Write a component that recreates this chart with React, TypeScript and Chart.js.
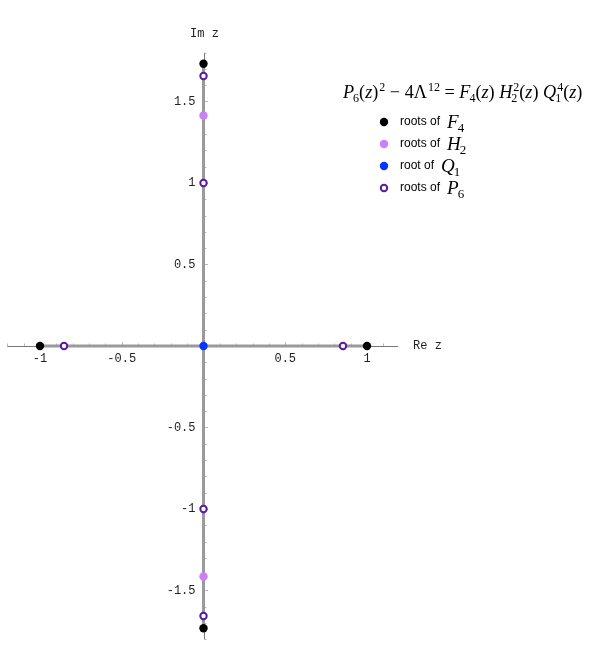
import React, { useEffect, useRef } from "react";
import { Chart, registerables } from "chart.js";
Chart.register(...registerables);

// ---- data ----
const f4Re = [-1, 1, 0, 0];
const f4Im = [0, 0, 1.732, -1.732];
const h2Re = [0, 0];
const h2Im = [1.414, -1.414];
const q1Re = [0];
const q1Im = [0];
const p6Re = [-0.853, 0.853, 0, 0, 0, 0];
const p6Im = [0, 0, 1, -1, 1.656, -1.656];
const realSegment = [-1, 1];
const imagSegment = [-1.732, 1.732];
const xTicks = [-1, -0.5, 0.5, 1];
const xTickLabels = ["-1", "-0.5", "0.5", "1"];
const yTicks = [-1.5, -1, -0.5, 0.5, 1, 1.5];
const yTickLabels = ["-1.5", "-1", "-0.5", "0.5", "1", "1.5"];
const xAxisExtent = [-1.2, 1.19];
const yAxisExtent = [-1.8, 1.8];
const legendLabels = ["roots of", "roots of", "root of", "roots of"];
const legendSymbols = [["F", "4"], ["H", "2"], ["Q", "1"], ["P", "6"]];
const axisTitles = ["Re z", "Im z"];

const COL_F4 = "#000000";
const COL_H2 = "#cc80f5";
const COL_Q1 = "#0336ff";
const COL_P6 = "#561aa0";
const COL_SEG = "#9a9a9a";

type Part = { t: string; it?: boolean; sub?: string; sup?: string };

const formula: Part[] = [
  { t: "P", it: true, sub: "6" },
  { t: "(" },
  { t: "z", it: true },
  { t: ")", sup: "2" },
  { t: " − 4Λ", sup: "12" },
  { t: " = " },
  { t: "F", it: true, sub: "4" },
  { t: "(" },
  { t: "z", it: true },
  { t: ") " },
  { t: "H", it: true, sup: "2", sub: "2" },
  { t: "(" },
  { t: "z", it: true },
  { t: ") " },
  { t: "Q", it: true, sup: "4", sub: "1" },
  { t: "(" },
  { t: "z", it: true },
  { t: ")" },
];

const SERIF = '"Liberation Serif", "DejaVu Serif", serif';

function drawMath(ctx: CanvasRenderingContext2D, x: number, y: number, parts: Part[], size: number) {
  let cx = x;
  for (const p of parts) {
    ctx.font = `${p.it ? "italic " : ""}${size}px ${SERIF}`;
    ctx.fillText(p.t, cx, y);
    cx += ctx.measureText(p.t).width;
    const s = Math.round(size * 0.68);
    ctx.font = `${s}px ${SERIF}`;
    let w = 0;
    if (p.sup) {
      ctx.fillText(p.sup, cx + 1, y - size * 0.4);
      w = Math.max(w, ctx.measureText(p.sup).width + 1);
    }
    if (p.sub) {
      const off = p.it ? -1 : 0;
      ctx.fillText(p.sub, cx + off, y + size * 0.22);
      w = Math.max(w, ctx.measureText(p.sub).width + off);
    }
    cx += w;
  }
  return cx;
}

function pts(xs: number[], ys: number[]) {
  return xs.map((x, i) => ({ x, y: ys[i] }));
}

const overlay = {
  id: "overlay",
  beforeDatasetsDraw(chart: any) {
    const ctx: CanvasRenderingContext2D = chart.ctx;
    const xs = chart.scales.x;
    const ys = chart.scales.y;
    const x0 = xs.getPixelForValue(0);
    const y0 = ys.getPixelForValue(0);
    ctx.save();
    ctx.strokeStyle = "#777";
    ctx.lineWidth = 1;
    // axis lines
    ctx.beginPath();
    ctx.moveTo(xs.getPixelForValue(xAxisExtent[0]), Math.round(y0) + 0.5);
    ctx.lineTo(xs.getPixelForValue(xAxisExtent[1]), Math.round(y0) + 0.5);
    ctx.moveTo(Math.round(x0) + 0.5, ys.getPixelForValue(yAxisExtent[0]));
    ctx.lineTo(Math.round(x0) + 0.5, ys.getPixelForValue(yAxisExtent[1]));
    ctx.stroke();
    // minor + major ticks
    ctx.strokeStyle = "#b8b8b8";
    ctx.beginPath();
    for (let k = -12; k <= 11; k++) {
      if (k === 0) continue;
      const major = k % 5 === 0;
      const px = Math.round(xs.getPixelForValue(k / 10)) + 0.5;
      ctx.moveTo(px, y0);
      ctx.lineTo(px, y0 - (major ? 4 : 2.5));
    }
    for (let k = -18; k <= 18; k++) {
      if (k === 0) continue;
      const major = k % 5 === 0;
      const py = Math.round(ys.getPixelForValue(k / 10)) + 0.5;
      ctx.moveTo(x0 + 1, py);
      ctx.lineTo(x0 + 1 + (major ? 3.5 : 2), py);
    }
    ctx.stroke();
    // tick labels
    ctx.fillStyle = "#222";
    ctx.font = '12px "Liberation Mono", "DejaVu Sans Mono", monospace';
    ctx.textAlign = "center";
    ctx.textBaseline = "middle";
    xTicks.forEach((v, i) => {
      ctx.fillText(xTickLabels[i], xs.getPixelForValue(v), y0 + 13);
    });
    ctx.textAlign = "right";
    yTicks.forEach((v, i) => {
      ctx.fillText(yTickLabels[i], x0 - 8, ys.getPixelForValue(v));
    });
    // axis titles
    ctx.textAlign = "left";
    ctx.fillText(axisTitles[0], xs.getPixelForValue(xAxisExtent[1]) + 15, y0);
    ctx.textAlign = "center";
    ctx.fillText(axisTitles[1], x0 + 1, 34);
    ctx.restore();
  },
  afterDraw(chart: any) {
    const ctx: CanvasRenderingContext2D = chart.ctx;
    ctx.save();
    ctx.fillStyle = "#000";
    ctx.textAlign = "left";
    ctx.textBaseline = "alphabetic";
    drawMath(ctx, 343, 98, formula, 18.2);
    const rows = [122, 144, 166, 188];
    const cols = [COL_F4, COL_H2, COL_Q1, COL_P6];
    rows.forEach((ry, i) => {
      ctx.beginPath();
      if (i === 3) {
        ctx.arc(384, ry, 3.2, 0, Math.PI * 2);
        ctx.fillStyle = "#fff";
        ctx.fill();
        ctx.lineWidth = 2;
        ctx.strokeStyle = cols[i];
        ctx.stroke();
      } else {
        ctx.arc(384, ry, 4.2, 0, Math.PI * 2);
        ctx.fillStyle = cols[i];
        ctx.fill();
      }
      ctx.fillStyle = "#000";
      ctx.font = '12px "Liberation Sans", Arial, sans-serif';
      ctx.textBaseline = "middle";
      ctx.fillText(legendLabels[i], 400, ry);
      const tw = ctx.measureText(legendLabels[i]).width;
      ctx.textBaseline = "alphabetic";
      drawMath(ctx, 400 + tw + 7, ry + 6, [{ t: legendSymbols[i][0], it: true, sub: legendSymbols[i][1] }], 19);
    });
    ctx.restore();
  },
};

export default function App() {
  const ref = useRef<HTMLCanvasElement>(null);
  useEffect(() => {
    if (!ref.current) return;
    const chart = new Chart(ref.current, {
      type: "scatter",
      data: {
        datasets: [
          {
            data: pts(realSegment, [0, 0]),
            showLine: true,
            borderColor: COL_SEG,
            borderWidth: 3,
            pointRadius: 0,
            order: 10,
          },
          {
            data: pts([0, 0], imagSegment),
            showLine: true,
            borderColor: COL_SEG,
            borderWidth: 3,
            pointRadius: 0,
            order: 9,
          },
          { data: pts(f4Re, f4Im), pointRadius: 4.2, pointBorderWidth: 0, backgroundColor: COL_F4, borderColor: COL_F4, order: 4 },
          { data: pts(h2Re, h2Im), pointRadius: 4.2, pointBorderWidth: 0, backgroundColor: COL_H2, borderColor: COL_H2, order: 3 },
          { data: pts(q1Re, q1Im), pointRadius: 4.2, pointBorderWidth: 0, backgroundColor: COL_Q1, borderColor: COL_Q1, order: 2 },
          { data: pts(p6Re, p6Im), pointRadius: 3.2, pointBorderWidth: 2, backgroundColor: "#fff", borderColor: COL_P6, order: 1 },
        ],
      },
      options: {
        animation: false,
        responsive: false,
        devicePixelRatio: 1,
        layout: { padding: 0, autoPadding: false },
        plugins: { legend: { display: false }, tooltip: { enabled: false } },
        scales: {
          x: { type: "linear", min: -1.2446, max: 2.376, display: false },
          y: { type: "linear", min: -1.9816, max: 2.1227, display: false },
        },
      },
      plugins: [overlay],
    });
    return () => chart.destroy();
  }, []);
  return (
    <div style={{ position: "fixed", left: 0, top: 0, width: 592, height: 669, background: "#fff" }}>
      <canvas ref={ref} width={592} height={669} style={{ display: "block" }} />
    </div>
  );
}
